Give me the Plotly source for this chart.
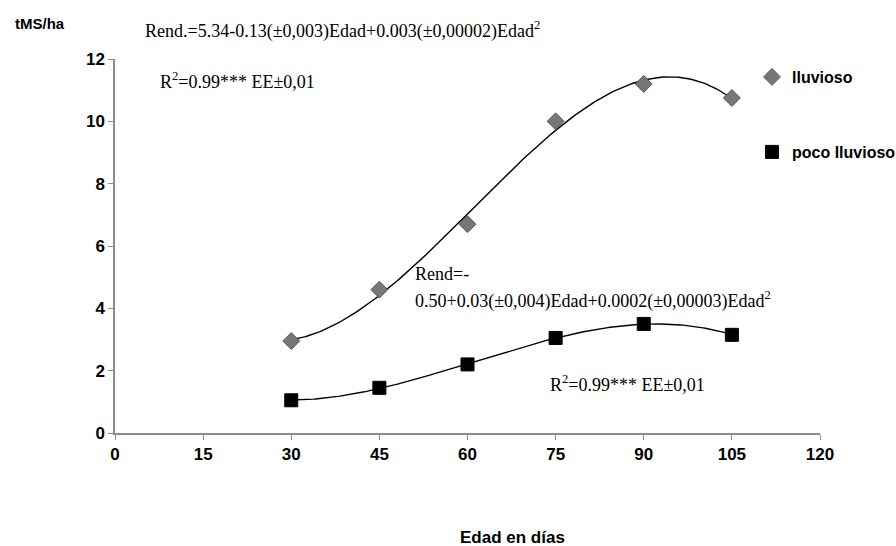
import numpy as np
import plotly.graph_objects as go

# Data
edad = [30, 45, 60, 75, 90, 105]
lluvioso = [2.95, 4.6, 6.7, 10.0, 11.2, 10.75]
poco_lluvioso = [1.05, 1.45, 2.2, 3.05, 3.5, 3.15]
x_ticks = [0, 15, 30, 45, 60, 75, 90, 105, 120]
y_ticks = [0, 2, 4, 6, 8, 10, 12]

# Trendlines (polynomial fit of the data)
xs = np.linspace(min(edad), max(edad), 200)
fit_ll = np.polyval(np.polyfit(edad, lluvioso, 3), xs)
fit_pl = np.polyval(np.polyfit(edad, poco_lluvioso, 3), xs)

fig = go.Figure()
fig.add_trace(go.Scatter(x=xs, y=fit_ll, mode="lines", line=dict(color="black", width=1.4),
                         showlegend=False, hoverinfo="skip"))
fig.add_trace(go.Scatter(x=xs, y=fit_pl, mode="lines", line=dict(color="black", width=1.4),
                         showlegend=False, hoverinfo="skip"))
fig.add_trace(go.Scatter(x=edad, y=lluvioso, mode="markers", name="lluvioso",
                         marker=dict(symbol="diamond", size=13, color="#777777",
                                     line=dict(color="#555555", width=1)),
                         legend="legend"))
fig.add_trace(go.Scatter(x=edad, y=poco_lluvioso, mode="markers", name="poco lluvioso",
                         marker=dict(symbol="square", size=13, color="black",
                                     line=dict(color="black", width=1)),
                         legend="legend2"))

serif = "Liberation Serif"
ann = [
    dict(x=143, y=30, text="Rend.=5.34-0.13(±0,003)Edad+0.003(±0,00002)Edad<sup>2</sup>"),
    dict(x=158, y=80, text="R<sup>2</sup>=0.99*** EE±0,01"),
    dict(x=413, y=274, text="Rend=-"),
    dict(x=413, y=300, text="0.50+0.03(±0,004)Edad+0.0002(±0,00003)Edad<sup>2</sup>"),
    dict(x=548, y=383, text="R<sup>2</sup>=0.99*** EE±0,01"),
]
W, H = 896, 546
L, R, T, B = 115, 76, 59, 113
pw, ph = W - L - R, H - T - B
annotations = []
for a in ann:
    annotations.append(dict(x=(a["x"] - L) / pw, y=(H - B - a["y"]) / ph,
                            xref="paper", yref="paper",
                            xanchor="left", yanchor="middle", text=a["text"], showarrow=False,
                            font=dict(family=serif, size=18, color="black")))

annotations.append(dict(x=(40 - L) / pw, y=(H - B - 23) / ph, xref="paper", yref="paper",
                        xanchor="center", yanchor="middle", text="tMS/ha", showarrow=False,
                        font=dict(family="Liberation Sans", size=15, color="black", weight="bold")))
annotations.append(dict(x=(512 - L) / pw, y=(H - B - 537) / ph, xref="paper", yref="paper",
                        xanchor="center", yanchor="middle", text="Edad en días", showarrow=False,
                        font=dict(family="Liberation Sans", size=17, color="black", weight="bold")))

axis_common = dict(showgrid=False, zeroline=False, showline=True, linecolor="#8c8c8c",
                   linewidth=1.5, ticks="outside", ticklen=5, tickcolor="#8c8c8c",
                   tickfont=dict(family="Liberation Sans", size=17, color="black", weight="bold"))

legfont = dict(family="Liberation Sans", size=16, color="black", weight="bold")
fig.update_layout(
    width=W, height=H,
    margin=dict(l=L, r=R, t=T, b=B, autoexpand=False),
    paper_bgcolor="white", plot_bgcolor="white",
    xaxis=dict(range=[0, 120], tickvals=x_ticks, **axis_common),
    yaxis=dict(range=[0, 12], tickvals=y_ticks, **axis_common),
    annotations=annotations,
    legend=dict(x=(752 - L) / pw, y=(H - B - 77) / ph, xanchor="left", yanchor="middle",
                bgcolor="rgba(0,0,0,0)", itemwidth=30, font=legfont),
    legend2=dict(x=(752 - L) / pw, y=(H - B - 152) / ph, xanchor="left", yanchor="middle",
                 bgcolor="rgba(0,0,0,0)", itemwidth=30, font=legfont),
)

fig.write_html("out.html")
